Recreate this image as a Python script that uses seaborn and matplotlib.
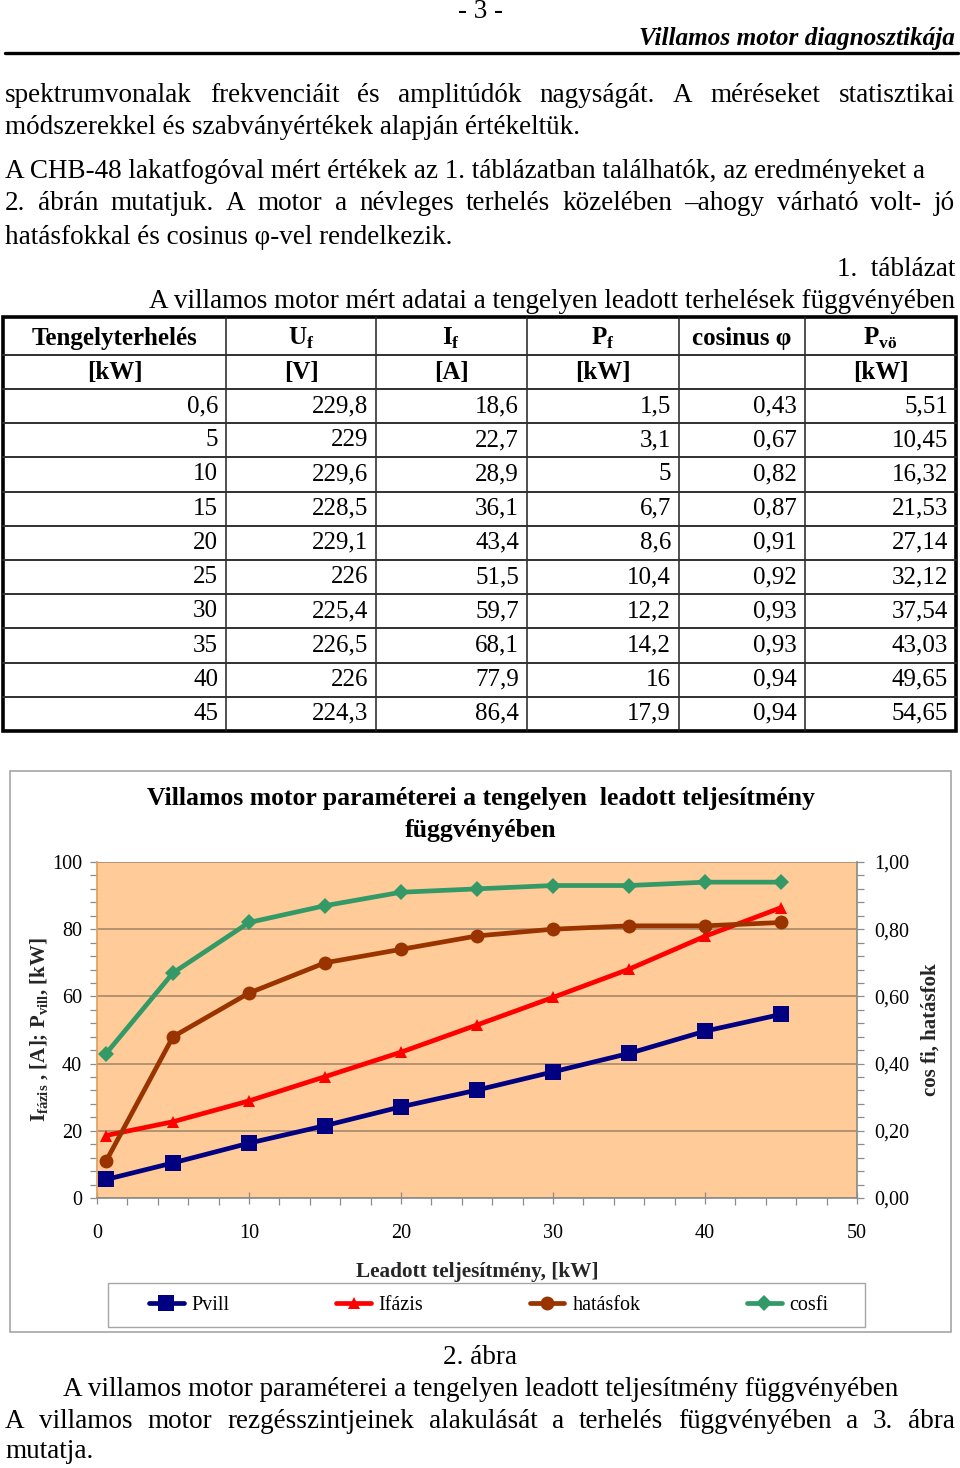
# %% Imports

import matplotlib

matplotlib.use("Agg")

import matplotlib.pyplot as plt
import matplotlib.ticker as mticker
import seaborn as sns
from matplotlib.patches import Rectangle

# %% Data (1. táblázat)

load_kw = [0.6, 5, 10, 15, 20, 25, 30, 35, 40, 45]
u_f = [229.8, 229, 229.6, 228.5, 229.1, 226, 225.4, 226.5, 226, 224.3]
i_f = [18.6, 22.7, 28.9, 36.1, 43.4, 51.5, 59.7, 68.1, 77.9, 86.4]
p_f = [1.5, 3.1, 5, 6.7, 8.6, 10.4, 12.2, 14.2, 16, 17.9]
cos_phi = [0.43, 0.67, 0.82, 0.87, 0.91, 0.92, 0.93, 0.93, 0.94, 0.94]
p_vo = [5.51, 10.45, 16.32, 21.53, 27.14, 32.12, 37.54, 43.03, 49.65, 54.65]

# efficiency
hatasfok = [0.11, 0.48, 0.61, 0.70, 0.74, 0.78, 0.80, 0.81, 0.81, 0.82]

header_top = ["Tengelyterhelés", r"U$_{\mathbf{f}}$", r"I$_{\mathbf{f}}$",
              r"P$_{\mathbf{f}}$", "cosinus φ", r"P$_{\mathbf{vö}}$"]
header_units = ["[kW]", "[V]", "[A]", "[kW]", "", "[kW]"]

series_names = ["Pvill", "Ifázis", "hatásfok", "cosfi"]
series_colors = ["#000080", "#FF0000", "#993300", "#339966"]

# Constants
FONT = ["Liberation Serif", "DejaVu Serif"]
PEACH = "#FFCC99"
BODY = 19.5
TABLE = 18

# %% Helpers


def fmt(v):
    return str(v).replace(".", ",")


def justify(ax, y, text, x0, x1, size):
    words = text.split()
    arts = [ax.text(0, y, w, fontsize=size, va="center", ha="left") for w in words]
    renderer = ax.figure.canvas.get_renderer()
    widths = [a.get_window_extent(renderer).width for a in arts]
    gap = (x1 - x0 - sum(widths)) / (len(words) - 1)
    x = x0
    for a, w in zip(arts, widths):
        a.set_x(x)
        x += w + gap


# %% Page

sns.set_theme(style="white")
plt.rcParams["font.family"] = FONT
plt.rcParams["mathtext.fontset"] = "custom"
plt.rcParams["mathtext.rm"] = "Liberation Serif"
plt.rcParams["mathtext.bf"] = "Liberation Serif:bold"
plt.rcParams["text.color"] = "black"

fig = plt.figure(figsize=(9.6, 14.68), dpi=100)
page = fig.add_axes([0, 0, 1, 1])
page.set_xlim(0, 960)
page.set_ylim(1468, 0)
page.axis("off")

page.text(480, 11, "- 3 -", fontsize=BODY, ha="center", va="center")
page.text(955, 39, "Villamos motor diagnosztikája", fontsize=18.2,
          fontweight="bold", style="italic", ha="right", va="center")
page.plot([5, 958], [53, 53], color="black", lw=2.4)

justify(page, 95, "spektrumvonalak frekvenciáit és amplitúdók nagyságát. "
        "A méréseket statisztikai", 5, 955, BODY)
page.text(5, 127, "módszerekkel és szabványértékek alapján értékeltük.",
          fontsize=BODY, va="center")
page.text(5, 171, "A CHB-48 lakatfogóval mért értékek az 1. táblázatban "
          "találhatók, az eredményeket a", fontsize=BODY, va="center")
justify(page, 204, "2. ábrán mutatjuk. A motor a névleges terhelés "
        "közelében –ahogy várható volt- jó", 5, 955, BODY)
page.text(5, 237, "hatásfokkal és cosinus φ-vel rendelkezik.",
          fontsize=BODY, va="center")
page.text(955, 269, "1.  táblázat", fontsize=BODY, ha="right", va="center")
page.text(955, 301, "A villamos motor mért adatai a tengelyen leadott "
          "terhelések függvényében", fontsize=BODY, ha="right", va="center")

# %% Table

col_x = [3, 226, 376, 527, 679, 805, 956]
row_y = [317, 355, 389] + [389 + 34.2 * (k + 1) for k in range(10)]

for x in col_x[1:-1]:
    page.plot([x, x], [row_y[0], row_y[-1]], color="#202020", lw=1.1)
for y in row_y[1:-1]:
    page.plot([col_x[0], col_x[-1]], [y, y], color="#303030", lw=1.4)
page.add_patch(Rectangle((col_x[0], row_y[0]), col_x[-1] - col_x[0],
                         row_y[-1] - row_y[0], fill=False, ec="black", lw=2.6))

for i, (top, unit) in enumerate(zip(header_top, header_units)):
    cx = (col_x[i] + col_x[i + 1]) / 2
    page.text(cx, 338, top, fontsize=TABLE, fontweight="bold", ha="center", va="center")
    page.text(cx, 373, unit, fontsize=TABLE, fontweight="bold", ha="center", va="center")

columns = [load_kw, u_f, i_f, p_f, cos_phi, p_vo]
for r in range(len(load_kw)):
    cy = (row_y[r + 2] + row_y[r + 3]) / 2
    for c, col in enumerate(columns):
        page.text(col_x[c + 1] - 8, cy, fmt(col[r]), fontsize=TABLE,
                  ha="right", va="center")

# %% Chart

page.add_patch(Rectangle((10, 771), 941, 561, fill=True, fc="white",
                         ec="#A6A6A6", lw=1.2))
page.text(481, 798, "Villamos motor paraméterei a tengelyen  leadott teljesítmény",
          fontsize=18.5, fontweight="bold", ha="center", va="center")
page.text(481, 831, "függvényében", fontsize=18.5, fontweight="bold",
          ha="center", va="center")

ax = fig.add_axes([97 / 960, (1468 - 1198) / 1468, 760 / 960, 336 / 1468])
ax.set_zorder(2)
ax.set_facecolor(PEACH)
ax2 = ax.twinx()

markers = ["s", "^", "o", "D"]
msizes = [11, 9, 10, 8]
for name, color, mk, ms, ys, target in zip(
    series_names, series_colors, markers, msizes,
    [p_vo, i_f, hatasfok, cos_phi], [ax, ax, ax2, ax2],
):
    sns.lineplot(x=load_kw, y=ys, ax=target, color=color, marker=mk,
                 markersize=ms, markeredgewidth=0, linewidth=3.4,
                 label=name, legend=False)

ax.set_xlim(0, 50)
ax.set_ylim(0, 100)
ax2.set_ylim(0, 1)

ax.xaxis.set_major_locator(mticker.MultipleLocator(10))
ax.xaxis.set_minor_locator(mticker.MultipleLocator(2))
ax.yaxis.set_major_locator(mticker.MultipleLocator(20))
ax.yaxis.set_minor_locator(mticker.MultipleLocator(4))
ax2.yaxis.set_major_locator(mticker.MultipleLocator(0.2))
ax2.yaxis.set_minor_locator(mticker.MultipleLocator(0.04))
ax2.yaxis.set_major_formatter(mticker.FuncFormatter(lambda v, _: f"{v:.2f}".replace(".", ",")))

ax.yaxis.grid(True, which="major", color="#9E8468", lw=1.1)
ax.xaxis.grid(False)

for a in (ax, ax2):
    for s in a.spines.values():
        s.set_visible(False)
ax.spines["bottom"].set_visible(True)
ax.spines["bottom"].set_color("#8C8C8C")
ax.spines["left"].set_visible(True)
ax.spines["left"].set_color("#E0A060")
ax2.spines["right"].set_visible(True)
ax2.spines["right"].set_color("#8C8C8C")

tick_kw = dict(color="#8C8C8C", width=0.9, labelsize=14.5, labelcolor="black")
minor_kw = dict(direction="out", length=5, color="#8C8C8C", width=0.9)
ax.tick_params(axis="x", which="major", direction="inout", length=9, pad=14.5, bottom=True, **tick_kw)
ax.tick_params(axis="x", which="minor", bottom=True, **minor_kw)
ax.tick_params(axis="y", which="major", direction="out", length=5, pad=5.7, left=True, **tick_kw)
ax.tick_params(axis="y", which="minor", left=True, **minor_kw)
ax2.tick_params(axis="y", which="major", direction="out", length=5, pad=7.7, right=True, **tick_kw)
ax2.tick_params(axis="y", which="minor", right=True, **minor_kw)

ax.set_xlabel("Leadott teljesítmény, [kW]", fontsize=15.3, fontweight="bold", va="center")
ax.xaxis.set_label_coords(0.5, (1198 - 1272) / 336)
ax.set_ylabel(r"I$_{\mathbf{fázis}}$ , [A]; P$_{\mathbf{vill}}$, [kW]",
              fontsize=15, fontweight="bold", va="center")
ax.yaxis.set_label_coords((40 - 97) / 760, 0.5)
ax2.set_ylabel("cos fi, hatásfok", fontsize=15, fontweight="bold", va="center")
ax2.yaxis.set_label_coords((931 - 97) / 760, 0.5)

# legend frame drawn on the page, entries centred inside it
page.add_patch(Rectangle((108, 1283), 757, 44, fill=False, ec="#A6A6A6", lw=1.0))
handles = [h for h in ax.get_lines() + ax2.get_lines() if h.get_label() in series_names]
leg = fig.legend(handles, [h.get_label() for h in handles], loc="center",
                 bbox_to_anchor=(489 / 960, 1 - 1305 / 1468),
                 ncol=4, fontsize=14.5, frameon=False,
                 handlelength=1.7, handletextpad=0.4, columnspacing=5.3)

# %% Caption and closing text

page.text(480, 1357, "2. ábra", fontsize=BODY, ha="center", va="center")
page.text(481, 1389, "A villamos motor paraméterei a tengelyen leadott "
          "teljesítmény függvényében", fontsize=BODY, ha="center", va="center")
justify(page, 1421, "A villamos motor rezgésszintjeinek alakulását a terhelés "
        "függvényében a 3. ábra", 5, 955, BODY)
page.text(5, 1452, "mutatja.", fontsize=BODY, va="center")

fig.savefig("out.png", dpi=100)
